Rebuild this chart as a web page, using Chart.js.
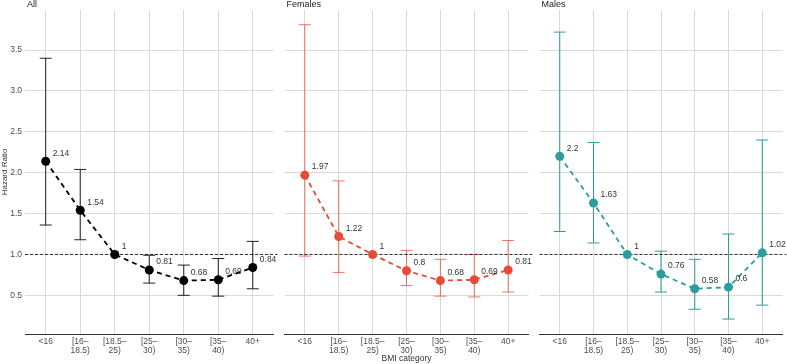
<!DOCTYPE html>
<html>
<head>
<meta charset="utf-8">
<script src="https://cdn.jsdelivr.net/npm/chart.js@4.4.0/dist/chart.umd.min.js"></script>
<style>
  html, body { margin: 0; padding: 0; background: #fff; }
  #wrap { position: relative; width: 787px; height: 364px; }
  canvas { position: absolute; top: 0; }
</style>
</head>
<body>
<div id="wrap">
  <canvas id="pAll" width="278" height="364" style="left:0px"></canvas>
  <canvas id="pFemales" width="253" height="364" style="left:280px"></canvas>
  <canvas id="pMales" width="252" height="364" style="left:535px"></canvas>
</div>
<script>
// BMI categories (x axis)
const categories = ['<16', ['[16–', '18.5)'], ['[18.5–', '25)'], ['[25–', '30)'], ['[30–', '35)'], ['[35–', '40)'], '40+'];
const yTicks = [0.5, 1.0, 1.5, 2.0, 2.5, 3.0, 3.5];

// hazard ratios and 95% CI (reference category [18.5-25) has no interval)
const allHR = [2.14, 1.54, 1, 0.81, 0.68, 0.69, 0.84];
const allLow = [1.36, 1.18, null, 0.65, 0.50, 0.49, 0.58];
const allHigh = [3.40, 2.04, null, 0.99, 0.87, 0.95, 1.16];

const femHR = [1.97, 1.22, 1, 0.8, 0.68, 0.69, 0.81];
const femLow = [0.98, 0.78, null, 0.62, 0.49, 0.48, 0.54];
const femHigh = [3.81, 1.90, null, 1.05, 0.94, 1.00, 1.17];

const maleHR = [2.2, 1.63, 1, 0.76, 0.58, 0.6, 1.02];
const maleLow = [1.28, 1.14, null, 0.54, 0.33, 0.21, 0.38];
const maleHigh = [3.72, 2.37, null, 1.04, 0.94, 1.25, 2.40];

const FONT = 'Liberation Sans, Arial, sans-serif';

const panelPlugin = {
  id: 'panel',
  beforeDatasetsDraw(chart) {
    const o = chart.options.plugins.panel;
    const { ctx, chartArea, scales } = chart;
    const x = scales.x, y = scales.y;
    ctx.save();
    // error bars
    ctx.strokeStyle = o.barColor;
    ctx.lineWidth = 1;
    o.low.forEach((lo, i) => {
      if (lo == null) return;
      const px = x.getPixelForValue(i + 1);
      const y1 = y.getPixelForValue(lo), y2 = y.getPixelForValue(o.high[i]);
      ctx.beginPath();
      ctx.moveTo(px, y1); ctx.lineTo(px, y2);
      ctx.moveTo(px - 6, y1); ctx.lineTo(px + 6, y1);
      ctx.moveTo(px - 6, y2); ctx.lineTo(px + 6, y2);
      ctx.stroke();
    });
    // reference line at HR = 1
    const ry = y.getPixelForValue(1);
    ctx.strokeStyle = '#000';
    ctx.lineWidth = 0.8;
    ctx.setLineDash([3, 2]);
    ctx.beginPath();
    ctx.moveTo(chartArea.left, ry);
    ctx.lineTo(chartArea.right + 4, ry);
    ctx.stroke();
    ctx.restore();
  },
  afterDatasetsDraw(chart) {
    const o = chart.options.plugins.panel;
    const { ctx, chartArea, scales } = chart;
    ctx.save();
    ctx.font = '8.5px ' + FONT;
    ctx.fillStyle = '#333';
    ctx.textBaseline = 'middle';
    ctx.textAlign = 'left';
    o.hr.forEach((v, i) => {
      const px = scales.x.getPixelForValue(i + 1);
      const py = scales.y.getPixelForValue(v);
      ctx.fillText(String(v), px + 7, py - 8);
    });
    // panel title
    ctx.font = '9px ' + FONT;
    ctx.fillStyle = '#1a1a1a';
    ctx.textBaseline = 'top';
    ctx.fillText(o.title, chartArea.left + 2, 0);
    ctx.restore();
  }
};

function makePanel(id, title, hr, low, high, color, barColor, first, xTitle) {
  return new Chart(document.getElementById(id), {
    type: 'line',
    data: {
      datasets: [{
        data: hr.map((v, i) => ({ x: i + 1, y: v })),
        borderColor: color,
        backgroundColor: color,
        borderWidth: 1.8,
        borderDash: [5, 4],
        pointRadius: 4.5,
        pointHoverRadius: 4.5,
        pointBorderWidth: 0,
        tension: 0
      }]
    },
    plugins: [panelPlugin],
    options: {
      responsive: false,
      animation: false,
      layout: { padding: { top: 10, right: 2, left: 0, bottom: 0 } },
      plugins: {
        legend: { display: false },
        tooltip: { enabled: false },
        panel: { title, hr, low, high, barColor }
      },
      scales: {
        x: {
          type: 'linear',
          min: 0.4, max: 7.6,
          afterBuildTicks: s => { s.ticks = categories.map((c, i) => ({ value: i + 1 })); },
          afterFit: s => { s.height = 30; },
          grid: { color: '#d9d9d9', lineWidth: 1, drawTicks: false },
          border: { display: true, color: '#333', width: 1 },
          ticks: {
            padding: 3,
            color: '#4d4d4d',
            font: { family: FONT, size: 8.5, lineHeight: 1.1 },
            maxRotation: 0,
            autoSkip: false,
            callback: v => categories[v - 1]
          },
          title: {
            display: xTitle,
            text: 'BMI category',
            color: '#333',
            font: { family: FONT, size: 8.5 },
            padding: 0
          }
        },
        y: {
          min: 0.027, max: 3.99,
          afterBuildTicks: s => { s.ticks = yTicks.map(v => ({ value: v })); },
          afterFit: s => { s.width = first ? 25 : 0; },
          grid: { color: '#d9d9d9', lineWidth: 1, drawTicks: false },
          border: { display: false },
          ticks: {
            display: first,
            padding: 3,
            color: '#4d4d4d',
            font: { family: FONT, size: 8.5 },
            callback: v => v.toFixed(1)
          },
          title: {
            display: first,
            text: 'Hazard Ratio',
            color: '#333',
            font: { family: FONT, size: 8 },
            padding: 0
          }
        }
      }
    }
  });
}

makePanel('pAll', 'All', allHR, allLow, allHigh, '#000000', '#222222', true, false);
makePanel('pFemales', 'Females', femHR, femLow, femHigh, '#E64B35', 'rgba(230,75,53,0.75)', false, true);
makePanel('pMales', 'Males', maleHR, maleLow, maleHigh, '#2A9D9C', '#2A9D9C', false, false);
</script>
</body>
</html>
